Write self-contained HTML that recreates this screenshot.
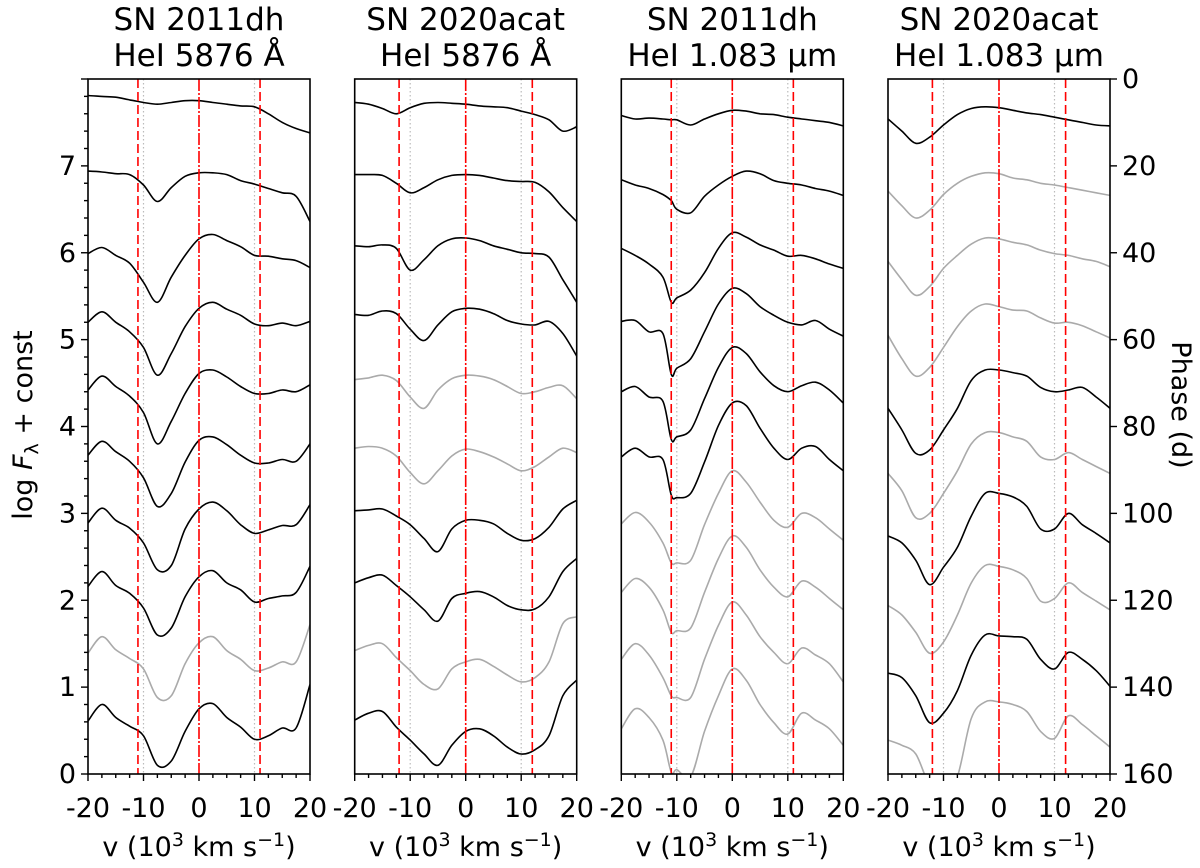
<!DOCTYPE html>
<html><head><meta charset="utf-8"><style>
html,body{margin:0;padding:0;background:#fff;}
svg{display:block;font-family:"DejaVu Sans","Liberation Sans",sans-serif;}
</style></head><body>
<svg id="chart" width="1200" height="868" viewBox="0 0 1200 868" xmlns="http://www.w3.org/2000/svg"></svg>
<script>
// ---- data ----
const vel = [-20,-17.5,-15,-12.5,-10,-7.5,-5,-2.5,0,2.5,5,7.5,10,12.5,15,17.5,20];
const vel3 = [-20,-17.5,-15,-12.5,-11,-10,-7.5,-5,-2.5,0,2.5,5,7.5,10,12.5,15,17.5,20];
const panelTitles1 = ["SN 2011dh","SN 2020acat","SN 2011dh","SN 2020acat"];
const panelTitles2 = ["HeI 5876 Å","HeI 5876 Å","HeI 1.083 µm","HeI 1.083 µm"];
const xTicks = [-20,-10,0,10,20];
const yTicks = [0,1,2,3,4,5,6,7];
const phaseTicks = [0,20,40,60,80,100,120,140,160];
const redLines = [[-11,11],[-12,12],[-11,11],[-12,12]];
const greyLines = [[-10,10],[-10,10],[-10,10],[-10,10]];
const grey1 = [0,0,0,0,0,0,0,0,1,0];
const grey2 = [0,0,0,0,1,1,0,0,1,0];
const grey3 = [0,0,0,0,0,0,1,1,1,1];
const grey4 = [0,1,1,1,0,1,0,1,0,1];
const dh5876 = [
[7.81,7.80,7.79,7.76,7.73,7.71,7.73,7.75,7.75,7.73,7.71,7.69,7.68,7.60,7.50,7.43,7.38],
[6.94,6.93,6.91,6.90,6.78,6.59,6.75,6.88,6.92,6.92,6.90,6.83,6.79,6.74,6.69,6.65,6.36],
[5.99,6.06,5.97,5.88,5.66,5.43,5.72,5.97,6.16,6.21,6.14,6.07,5.97,5.96,5.93,5.91,5.83],
[5.20,5.32,5.20,5.09,4.91,4.59,4.84,5.15,5.36,5.43,5.35,5.28,5.18,5.16,5.19,5.16,5.21],
[4.42,4.58,4.46,4.35,4.16,3.80,4.06,4.38,4.61,4.65,4.57,4.46,4.38,4.38,4.42,4.40,4.48],
[3.67,3.83,3.71,3.60,3.41,3.08,3.23,3.59,3.84,3.88,3.79,3.67,3.58,3.58,3.62,3.60,3.80],
[2.89,3.06,2.92,2.83,2.66,2.35,2.40,2.82,3.05,3.13,3.03,2.87,2.77,2.81,2.86,2.87,3.10],
[2.16,2.33,2.17,2.08,1.91,1.60,1.68,2.04,2.27,2.34,2.20,2.12,1.98,2.02,2.05,2.09,2.39],
[1.39,1.58,1.43,1.33,1.21,0.88,0.90,1.27,1.51,1.58,1.42,1.32,1.19,1.22,1.29,1.29,1.72],
[0.61,0.80,0.65,0.55,0.44,0.10,0.15,0.49,0.75,0.81,0.65,0.54,0.40,0.44,0.53,0.53,1.03]];
const acat5876 = [
[7.73,7.71,7.66,7.60,7.67,7.72,7.73,7.72,7.71,7.69,7.68,7.67,7.63,7.59,7.53,7.40,7.45],
[6.90,6.90,6.89,6.80,6.69,6.75,6.84,6.89,6.90,6.89,6.86,6.83,6.82,6.81,6.70,6.52,6.36],
[6.08,6.07,6.09,6.05,5.80,5.92,6.08,6.16,6.17,6.14,6.08,6.04,6.00,5.99,5.95,5.69,5.43],
[5.29,5.28,5.33,5.30,5.12,4.99,5.17,5.32,5.36,5.35,5.30,5.22,5.18,5.17,5.21,5.07,4.81],
[4.54,4.56,4.59,4.53,4.34,4.21,4.42,4.55,4.59,4.58,4.54,4.46,4.38,4.40,4.45,4.47,4.32],
[3.75,3.77,3.75,3.66,3.47,3.34,3.49,3.66,3.74,3.71,3.65,3.57,3.49,3.54,3.65,3.75,3.70],
[3.03,3.04,3.05,2.97,2.87,2.71,2.56,2.82,2.92,2.92,2.88,2.77,2.69,2.71,2.84,3.05,3.15],
[2.20,2.26,2.29,2.17,2.04,1.89,1.76,2.02,2.08,2.10,2.04,1.94,1.89,1.90,2.04,2.33,2.48],
[1.42,1.48,1.50,1.34,1.19,1.03,0.98,1.21,1.29,1.32,1.24,1.14,1.06,1.11,1.29,1.73,1.81],
[0.62,0.70,0.72,0.54,0.39,0.23,0.10,0.33,0.49,0.52,0.44,0.31,0.23,0.28,0.44,0.90,1.08]];
const dh1083 = [
[7.58,7.54,7.55,7.54,7.53,7.53,7.47,7.54,7.60,7.64,7.63,7.60,7.59,7.56,7.54,7.52,7.50,7.46],
[6.84,6.78,6.74,6.67,6.60,6.50,6.46,6.65,6.78,6.88,6.94,6.91,6.83,6.80,6.78,6.74,6.71,6.66],
[6.05,5.97,5.87,5.72,5.43,5.48,5.57,5.77,6.05,6.23,6.18,6.09,6.03,5.96,5.97,5.93,5.87,5.82],
[5.21,5.22,5.09,5.07,4.60,4.67,4.78,5.09,5.41,5.59,5.53,5.38,5.28,5.20,5.17,5.22,5.12,5.04],
[4.40,4.46,4.34,4.29,3.85,3.88,3.96,4.32,4.68,4.91,4.84,4.63,4.47,4.40,4.47,4.51,4.42,4.27],
[3.65,3.75,3.65,3.62,3.21,3.18,3.23,3.59,4.01,4.27,4.24,3.98,3.75,3.62,3.75,3.77,3.62,3.49],
[2.88,3.01,2.90,2.66,2.43,2.43,2.46,2.87,3.23,3.49,3.36,3.13,2.92,2.84,3.00,2.95,2.82,2.69],
[2.09,2.25,2.15,1.89,1.63,1.65,1.68,2.09,2.48,2.74,2.61,2.35,2.15,2.04,2.22,2.15,2.02,1.89],
[1.32,1.50,1.37,1.11,0.90,0.88,0.88,1.32,1.71,1.98,1.83,1.58,1.40,1.27,1.45,1.37,1.27,1.06],
[0.52,0.75,0.65,0.39,0.02,0.05,-0.03,0.49,0.90,1.21,1.08,0.80,0.59,0.46,0.70,0.62,0.52,0.33]];
const acat1083 = [
[7.54,7.40,7.26,7.33,7.47,7.59,7.66,7.68,7.67,7.64,7.61,7.59,7.56,7.53,7.50,7.47,7.46],
[6.71,6.54,6.40,6.49,6.67,6.80,6.88,6.92,6.91,6.86,6.84,6.80,6.78,6.75,6.72,6.69,6.66],
[5.90,5.69,5.51,5.61,5.82,5.97,6.10,6.17,6.16,6.12,6.09,6.03,5.99,5.97,5.93,5.90,5.84],
[5.05,4.78,4.58,4.68,4.91,5.15,5.33,5.41,5.38,5.34,5.33,5.25,5.19,5.20,5.16,5.09,5.02],
[4.21,3.96,3.69,3.73,3.96,4.21,4.53,4.65,4.65,4.62,4.58,4.45,4.40,4.42,4.45,4.34,4.21],
[3.46,3.26,2.95,3.00,3.23,3.49,3.80,3.93,3.93,3.88,3.83,3.65,3.62,3.70,3.62,3.54,3.46],
[2.74,2.66,2.46,2.18,2.38,2.61,2.97,3.23,3.23,3.19,3.08,2.82,2.82,3.00,2.87,2.77,2.66],
[1.94,1.83,1.63,1.39,1.52,1.83,2.20,2.40,2.39,2.35,2.25,1.99,2.02,2.20,2.09,1.99,1.89],
[1.16,1.11,0.90,0.59,0.70,0.96,1.37,1.60,1.59,1.58,1.55,1.32,1.21,1.40,1.32,1.19,1.01],
[0.39,0.33,0.23,-0.13,-0.24,-0.03,0.64,0.83,0.83,0.80,0.72,0.49,0.41,0.67,0.57,0.44,0.31]];

// ---- layout ----
const NS="http://www.w3.org/2000/svg";
const svg=document.getElementById('chart');
const PL=[88,354.7,621.3,888], PW=222, PT=79, PB=774;
const yUnit=(PB-PT)/8;
function yScale(v){return PB-v*yUnit;}
function xScale(p,v){return PL[p]+(v+20)/40*PW;}
function phaseScale(d){return PT+d/160*(PB-PT);}
function mk(tag,attrs,parent){const e=document.createElementNS(NS,tag);for(const k in attrs)e.setAttribute(k,attrs[k]);(parent||svg).appendChild(e);return e;}
function smoothPath(pts){
  let d="M"+pts[0][0].toFixed(1)+","+pts[0][1].toFixed(1);
  for(let i=0;i<pts.length-1;i++){
    const p0=pts[Math.max(0,i-1)],p1=pts[i],p2=pts[i+1],p3=pts[Math.min(pts.length-1,i+2)];
    const c1x=p1[0]+(p2[0]-p0[0])/6,c1y=p1[1]+(p2[1]-p0[1])/6;
    const c2x=p2[0]-(p3[0]-p1[0])/6,c2y=p2[1]-(p3[1]-p1[1])/6;
    d+=" C"+c1x.toFixed(1)+","+c1y.toFixed(1)+" "+c2x.toFixed(1)+","+c2y.toFixed(1)+" "+p2[0].toFixed(1)+","+p2[1].toFixed(1);
  }
  return d;
}
const defs=mk('defs',{});
const panels=[{v:vel,s:dh5876,g:grey1},{v:vel,s:acat5876,g:grey2},{v:vel3,s:dh1083,g:grey3},{v:vel,s:acat1083,g:grey4}];
panels.forEach((P,p)=>{
  const cp=mk('clipPath',{id:'clip'+p},defs);
  mk('rect',{x:PL[p],y:PT,width:PW,height:PB-PT},cp);
  const g=mk('g',{'clip-path':'url(#clip'+p+')'});
  
  
  greyLines[p].forEach(v=>{
    const l=mk('line',{x1:xScale(p,v),x2:xScale(p,v),y1:PT,y2:PB,stroke:'#bbbbbb','stroke-width':1.2,'stroke-dasharray':'1.5,2.5'},g);
    
    
  });
  P.s.forEach((arr,i)=>{
    const pts=arr.map((y,k)=>[xScale(p,P.v[k]),yScale(y)]);
    const path=mk('path',{d:smoothPath(pts),fill:'none',stroke:P.g[i]?'#aaaaaa':'#000000','stroke-width':1.6},g);
    
    
  });
  redLines[p].forEach(v=>{
    const l=mk('line',{x1:xScale(p,v),x2:xScale(p,v),y1:PT,y2:PB,stroke:'#ff0000','stroke-width':1.6,'stroke-dasharray':'9,4'},g);
    
    
  });
  const z=mk('line',{x1:xScale(p,0),x2:xScale(p,0),y1:PT,y2:PB,stroke:'#ff0000','stroke-width':1.6,'stroke-dasharray':'12,2,2,2'},g);
  
  
  const fr=mk('rect',{x:PL[p],y:PT,width:PW,height:PB-PT,fill:'none',stroke:'#000','stroke-width':1.6});
  
  
  const cx=PL[p]+PW/2;
  const t1=mk('text',{x:cx,y:30,'text-anchor':'middle','font-size':31});
  t1.textContent=panelTitles1[p];
  
  
  const t2=mk('text',{x:cx,y:66,'text-anchor':'middle','font-size':31});
  t2.textContent=panelTitles2[p];
  
  
  for(let v=-20;v<=20;v+=2.5){
    const major=xTicks.includes(v);
    mk('line',{x1:xScale(p,v),x2:xScale(p,v),y1:PB,y2:PB+(major?7:4),stroke:'#000','stroke-width':1.4});
  }
  xTicks.forEach(v=>{
    const t=mk('text',{x:xScale(p,v),y:817,'text-anchor':'middle','font-size':27});
    t.textContent=String(v);
    
    
  });
  const xl=mk('text',{x:cx,y:856,'text-anchor':'middle','font-size':27});
  xl.innerHTML='v (10<tspan dy="-10" font-size="19">3</tspan><tspan dy="10"> km s</tspan><tspan dy="-10" font-size="19">−1</tspan><tspan dy="10">)</tspan>';
  
  
});
for(let k=0;k<=40;k++){
  const v=k*0.2;
  const major=(k%5===0);
  mk('line',{x1:PL[0],x2:PL[0]-(major?7:4),y1:yScale(v),y2:yScale(v),stroke:'#000','stroke-width':1.4});
}
yTicks.forEach(v=>{
  const t=mk('text',{x:76,y:yScale(v)+9,'text-anchor':'end','font-size':27});
  t.textContent=String(v);
  
  
});
const yl=mk('text',{x:0,y:0,'text-anchor':'middle','font-size':27,transform:'translate(32,425) rotate(-90)'});
yl.innerHTML='log <tspan font-style="italic">F</tspan><tspan dy="6" font-size="19">λ</tspan><tspan dy="-6"> + const</tspan>';


const RX=PL[3]+PW;
phaseTicks.forEach(d=>{
  mk('line',{x1:RX,x2:RX+7,y1:phaseScale(d),y2:phaseScale(d),stroke:'#000','stroke-width':1.4});
  const t=mk('text',{x:RX+12,y:phaseScale(d)+9,'font-size':27});
  t.textContent=String(d);
  
  
});
const pl=mk('text',{x:0,y:0,'text-anchor':'middle','font-size':27,transform:'translate(1172,405) rotate(90)'});
pl.textContent='Phase (d)';


</script>
</body></html>
